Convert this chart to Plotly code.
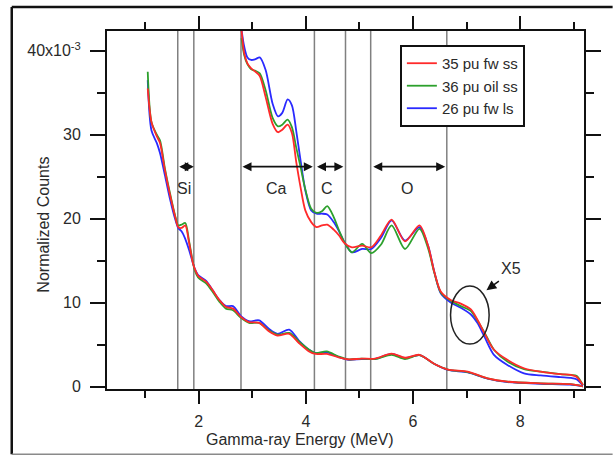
import plotly.graph_objects as go

# ---------------- data ----------------
series_names = ["35 pu fw ss", "36 pu oil ss", "26 pu fw ls"]
series_colors = ["#ff2a2a", "#2ca02c", "#2a2aff"]

# base spectra
low_energy = [1.05, 1.12, 1.22, 1.28, 1.37, 1.46, 1.56, 1.62, 1.68, 1.75, 1.82, 1.89,
              1.93, 1.99, 2.14, 2.26, 2.39, 2.51, 2.64, 2.79, 2.94, 3.13, 3.31, 3.47,
              3.69, 3.87, 4.06, 4.18, 4.39, 4.61, 4.80, 5.04, 5.29, 5.60, 5.85, 6.12,
              6.40, 6.65, 7.02, 7.39, 7.76, 8.38, 8.93, 9.17]
low_red = [35.5, 31.5, 29.8, 29.0, 25.8, 23.0, 20.3, 19.0, 18.9, 19.2, 17.2, 14.8,
           14.0, 13.2, 12.5, 11.5, 10.3, 9.5, 9.3, 8.3, 7.7, 7.6, 6.6, 6.1,
           6.3, 5.2, 4.2, 3.9, 3.9, 3.5, 3.25, 3.35, 3.35, 3.95, 3.45, 3.8,
           2.7, 2.05, 1.8, 1.0, 0.6, 0.4, 0.3, 0.05]
low_green = [37.5, 31.5, 30.0, 29.3, 26.0, 23.2, 20.4, 19.2, 19.3, 19.5, 17.4, 14.9,
             13.8, 13.0, 12.3, 11.3, 10.1, 9.3, 9.1, 8.2, 7.6, 7.6, 6.7, 6.2,
             6.4, 5.4, 4.4, 4.0, 4.2, 3.6, 3.25, 3.35, 3.3, 3.8, 3.3, 3.75,
             2.7, 2.05, 1.75, 1.0, 0.6, 0.4, 0.3, 0.05]
low_blue = [36.5, 30.5, 29.0, 27.8, 25.2, 22.5, 20.0, 18.9, 18.5, 17.6, 16.3, 14.8,
            14.0, 13.3, 12.6, 11.5, 10.3, 9.6, 9.6, 8.4, 7.8, 7.9, 6.9, 6.3,
            6.8, 5.5, 4.4, 4.0, 4.1, 3.55, 3.2, 3.3, 3.3, 3.9, 3.4, 3.75,
            2.7, 2.0, 1.7, 0.95, 0.55, 0.35, 0.25, 0.05]

# X5 expanded spectra
hi_energy = [2.80, 2.85, 2.91, 2.98, 3.06, 3.14, 3.25, 3.38, 3.48, 3.56, 3.66, 3.74,
             3.82, 3.90, 3.99, 4.10, 4.20, 4.30, 4.40, 4.52, 4.62, 4.72, 4.86, 5.05,
             5.22, 5.40, 5.60, 5.85, 6.12, 6.28, 6.40, 6.52, 6.71, 6.89, 7.08, 7.20,
             7.33, 7.51, 7.76, 8.07, 8.38, 8.75, 8.95, 9.05, 9.17]
hi_red = [42.5, 39.7, 38.5, 37.9, 37.5, 37.0, 34.5, 31.3, 30.3, 30.6, 31.2, 30.2,
          26.8, 23.8, 21.0, 19.6, 19.0, 19.2, 19.3, 18.7, 18.0, 17.1, 16.6, 16.8,
          16.6, 18.0, 19.9, 17.3, 19.2, 16.8, 13.6, 11.3, 10.3, 9.9, 9.2, 8.0,
          6.4, 4.4, 3.2, 2.2, 1.8, 1.5, 1.4, 1.2, 0.2]
hi_green = [41.5, 39.5, 38.4, 37.8, 37.6, 37.3, 35.3, 32.0, 31.0, 31.2, 31.8, 30.9,
            28.5, 26.2, 23.5, 21.2, 20.7, 20.9, 21.5, 20.2, 18.6, 17.2, 16.0, 17.0,
            15.9, 16.9, 19.2, 16.4, 18.8, 16.5, 13.5, 11.2, 10.2, 9.6, 9.0, 7.9,
            6.5, 4.4, 3.0, 2.1, 1.8, 1.5, 1.4, 1.3, 0.2]
hi_blue = [42.5, 40.5, 39.2, 38.9, 39.0, 39.2, 37.7, 33.7, 32.2, 32.6, 34.2, 33.5,
           30.5, 27.0, 23.4, 21.0, 20.6, 20.6, 20.5, 19.6, 18.5, 17.2, 16.0, 16.4,
           16.4, 17.7, 19.8, 17.4, 19.0, 16.8, 13.6, 11.1, 10.0, 9.4, 8.6, 7.6,
           6.0, 3.8, 2.6, 1.6, 1.35, 1.15, 1.05, 0.9, 0.15]

# energy window boundaries (MeV)
window_lines = [1.61, 1.91, 2.79, 4.16, 4.74, 5.21, 6.63]
# element windows
element_labels = ["Si", "Ca", "C", "O"]
element_starts = [1.61, 2.79, 4.18, 5.23]
element_ends = [1.91, 4.13, 4.70, 6.60]
element_label_x = [1.73, 3.45, 4.39, 5.89]
arrow_y = 26.2
label_y = 23.6

y_top_label = {"40": "40x10<sup>-3</sup>"}

FONT = "Liberation Sans, Arial, sans-serif"
TXT = "#2a2a2a"
X_RANGE = [0.29, 9.19]
Y_RANGE = [-0.27, 42.35]

fig = go.Figure()

lows = [low_red, low_green, low_blue]
his = [hi_red, hi_green, hi_blue]
for i in [2, 1, 0]:
    fig.add_trace(go.Scatter(x=low_energy, y=lows[i], mode="lines",
                             line=dict(color=series_colors[i], width=1.8, shape="spline", smoothing=0.8),
                             showlegend=False, hoverinfo="skip"))
for i in [2, 1, 0]:
    fig.add_trace(go.Scatter(x=hi_energy, y=his[i], mode="lines", name=series_names[i],
                             line=dict(color=series_colors[i], width=1.8, shape="spline", smoothing=0.8)))
# invisible helper trace so the minor-tick overlay axes are drawn
fig.add_trace(go.Scatter(x=[low_energy[0]], y=[low_red[0]], xaxis="x2", yaxis="y2", mode="markers",
                         marker=dict(opacity=0), showlegend=False, hoverinfo="skip"))

shapes = []
for xv in window_lines:
    shapes.append(dict(type="line", xref="x", yref="paper", x0=xv, x1=xv, y0=0, y1=1,
                       line=dict(color="#808080", width=1.5), layer="below"))
# X5 ellipse
shapes.append(dict(type="circle", xref="x", yref="y", x0=6.70, x1=7.42, y0=5.08, y1=11.99,
                   line=dict(color="#222222", width=1.5)))
# outer image border
shapes.append(dict(type="line", xref="paper", yref="paper", x0=-0.1997, x1=-0.1997, y0=-0.182, y1=1.067,
                   line=dict(color="#111111", width=2.5)))
shapes.append(dict(type="line", xref="paper", yref="paper", x0=-0.1997, x1=1.06, y0=1.067, y1=1.067,
                   line=dict(color="#111111", width=2.5)))
shapes.append(dict(type="line", xref="paper", yref="paper", x0=-0.1997, x1=1.06, y0=-0.182, y1=-0.182,
                   line=dict(color="#8a8a8a", width=1.5)))

annotations = []
for lab, s, e, lx in zip(element_labels, element_starts, element_ends, element_label_x):
    annotations.append(dict(x=e, y=arrow_y, ax=s, ay=arrow_y, xref="x", yref="y",
                            axref="x", ayref="y", text="", showarrow=True,
                            arrowhead=2, startarrowhead=2, arrowside="end+start",
                            arrowsize=1, arrowwidth=1.8, arrowcolor="#111111",
                            standoff=0, startstandoff=0))
    annotations.append(dict(x=lx, y=label_y, xref="x", yref="y", text=lab, showarrow=False,
                            xanchor="center", yanchor="middle",
                            font=dict(family=FONT, size=16, color=TXT)))
annotations.append(dict(x=7.82, y=14.1, xref="x", yref="y", text="X5", showarrow=False,
                        xanchor="center", yanchor="middle",
                        font=dict(family=FONT, size=16, color=TXT)))
annotations.append(dict(x=7.37, y=11.5, ax=7.63, ay=12.7, xref="x", yref="y", axref="x", ayref="y",
                        text="", showarrow=True, arrowhead=2, arrowsize=1.3, arrowwidth=1.5,
                        arrowcolor="#111111", standoff=0))
annotations.append(dict(x=-0.135, y=0.458, xref="paper", yref="paper", text="Normalized Counts",
                        textangle=-90, showarrow=False, xanchor="center", yanchor="middle",
                        font=dict(family=FONT, size=16, color=TXT)))
annotations.append(dict(x=0.405, y=-0.142, xref="paper", yref="paper", text="Gamma-ray Energy (MeV)",
                        showarrow=False, xanchor="center", yanchor="middle",
                        font=dict(family=FONT, size=16, color=TXT)))

fig.update_layout(
    width=613, height=456,
    margin=dict(l=107, r=27, t=31, b=67),
    paper_bgcolor="white", plot_bgcolor="white",
    font=dict(family=FONT, size=16, color=TXT),
    shapes=shapes, annotations=annotations,
    legend=dict(x=0.614, y=0.961, xanchor="left", yanchor="top",
                bgcolor="white", bordercolor="#111111", borderwidth=2,
                font=dict(family=FONT, size=15, color=TXT), traceorder="reversed",
                itemwidth=30, tracegroupgap=0),
    xaxis=dict(range=X_RANGE, tickmode="linear", tick0=0, dtick=2,
               ticks="outside", ticklen=13, tickwidth=2, tickcolor="#111111",
               showline=True, linewidth=2, linecolor="#111111", mirror="ticks",
               showgrid=False, zeroline=False, ticklabelstandoff=4),
    yaxis=dict(range=Y_RANGE, tickmode="linear", tick0=0, dtick=10, labelalias=y_top_label,
               ticks="outside", ticklen=15, tickwidth=2, tickcolor="#111111",
               showline=True, linewidth=2, linecolor="#111111", mirror="ticks",
               showgrid=False, zeroline=False, ticklabelstandoff=6),
    xaxis2=dict(range=X_RANGE, overlaying="x", anchor="y2", side="bottom", tickmode="linear", tick0=1, dtick=2,
                ticks="outside", ticklen=7, tickwidth=2, tickcolor="#111111", showticklabels=False,
                showline=True, linewidth=2, linecolor="#111111", mirror="ticks",
                showgrid=False, zeroline=False),
    yaxis2=dict(range=Y_RANGE, overlaying="y", anchor="x2", side="left", tickmode="linear", tick0=5, dtick=10,
                ticks="outside", ticklen=8, tickwidth=2, tickcolor="#111111", showticklabels=False,
                showline=True, linewidth=2, linecolor="#111111", mirror="ticks",
                showgrid=False, zeroline=False),
)

fig.write_html("out.html", config={"displayModeBar": False},
               post_script="document.body.style.margin='0';document.body.style.overflow='hidden';")
